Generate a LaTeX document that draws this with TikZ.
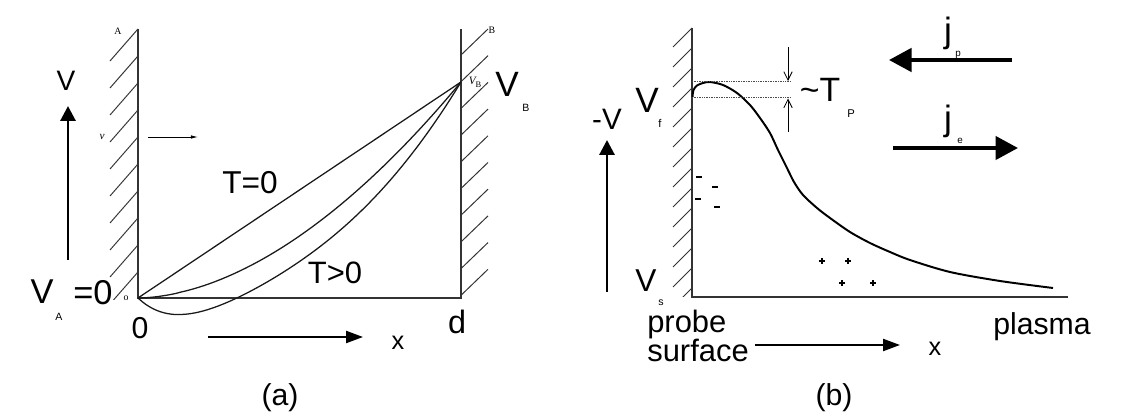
\documentclass[tikz,border=0pt]{standalone}
\usepackage{fontspec}
\setmainfont{Liberation Sans}
\newfontfamily\smallserif{Liberation Serif}
\usetikzlibrary{arrows.meta}
\newcommand\fsz[1]{\fontsize{#1}{#1}\selectfont}
\tikzset{
  lbl/.style={inner sep=0pt, anchor=center},
  wall/.style={line width=0.8pt, black!80},
  hatch/.style={line width=0.7pt, black!80},
  curvea/.style={line width=0.9pt, black!90},
  curveb/.style={line width=1.4pt, black},
  bigarrow/.style={line width=2.1pt, -{Triangle[length=10.5pt,width=10.5pt]}},
  xarrow/.style={line width=1.5pt, -{Triangle[length=12pt,width=8.5pt]}},
  jarrow/.style={line width=2.8pt, -{Triangle[length=16pt,width=16.5pt]}},
  smallarrow/.style={line width=0.6pt, -{Latex[length=5pt,width=2.5pt]}},
  barb/.style={line width=0.6pt, -{Straight Barb[length=6pt,width=6pt]}},
  dotline/.style={line width=0.5pt, black!70, dash pattern=on 0.6pt off 0.6pt},
  sign/.style={line width=0.8pt}
}
\begin{document}
\begin{tikzpicture}[x=0.025cm,y=-0.025cm]
\useasboundingbox (0,0) rectangle (1134,419);
\fill[white] (0,0) rectangle (1134,419);

%% ================= Panel (a) =================
\coordinate (A0) at (138,298);
\coordinate (Atop) at (138,29);
\coordinate (B0) at (461,298);
\coordinate (Btop) at (461,29);
\coordinate (VBp) at (461,82);
\draw[wall] (Atop) -- (A0) -- (B0) -- (Btop);
\begin{scope}
  \clip (90,20) rectangle (138,300);
  \foreach \i in {0,...,9} \draw[hatch] (138,29+27*\i) -- ++(-28,32);
\end{scope}
\begin{scope}
  \clip (461,20) rectangle (500,298);
  \foreach \i in {0,...,9} \draw[hatch] (461,55+26.7*\i) -- ++(27,-26);
\end{scope}

% curves
\draw[curvea] (A0) -- (VBp);
\draw[curvea] (A0) -- plot[domain=0.002:0.998,samples=70,variable=\t] ({138+323*\t},{298-216*(\t^1.8)}) -- (VBp);
\draw[curvea] (A0) -- plot[domain=0.002:0.996,samples=90,variable=\t] ({138+323*\t},{298-216*((\t^2.45)-1.41*\t*((1-\t)^5.64))}) -- (VBp);

% small serif labels
\node[lbl] (labA) at (118,31) {\smallserif\fsz{7}A};
\node[lbl] (labB) at (492,30) {\smallserif\fsz{7}B};
\node[lbl] (labo) at (126,298) {\smallserif\fsz{7}o};
\node[lbl] (labv) at (102,137) {\smallserif\itshape\fsz{8}v};
\node[lbl, fill=white, inner sep=0.5pt] (labVBs) at (475,82) {\smallserif\itshape\fsz{8}V\raisebox{-2pt}{\upshape\fsz{6}B}};
\coordinate (sv1) at (148,137);
\coordinate (sv2) at (198,137);
\draw[smallarrow] (sv1) -- (sv2);

% V axis arrow
\node[lbl] (Vtop) at (66,81) {\fsz{20}V};
\coordinate (Va1) at (68,260);
\coordinate (Va2) at (68,106);
\draw[bigarrow] (Va1) -- (Va2);

% V_A = 0
\node[lbl] (VA) at (42,292) {\fsz{24.5}V};
\node[lbl] (VAsub) at (59,317) {\fsz{7.5}A};
\node[lbl] (VAeq) at (93,293) {\fsz{24.5}=0};

\node[lbl] (zero) at (140,328) {\fsz{21.5}0};
\node[lbl] (dlab) at (457,322) {\fsz{23}d};
\node[lbl] (xa) at (398,343) {\fsz{18}x};
\coordinate (xa1) at (208,337);
\coordinate (xa2) at (363,337);
\draw[xarrow] (xa1) -- (xa2);

\node[lbl] (T0) at (250,183) {\fsz{22.5}T=0};
\node[lbl] (Tg0) at (335,273) {\fsz{22}T>0};

\node[lbl] (VB) at (507,84) {\fsz{25}V};
\node[lbl] (VBsub) at (526,108) {\fsz{7.5}B};

\node[lbl] (capa) at (280,398) {\fsz{21.5}(a)};

%% ================= Panel (b) =================
\coordinate (P0) at (692,297);
\coordinate (Ptop) at (692,28);
\coordinate (Pend) at (1068,297);
\draw[wall] (Ptop) -- (P0) -- (Pend);
\begin{scope}
  \clip (660,20) rectangle (692,297);
  \foreach \i in {0,...,13} \draw[hatch] (692,28+20*\i) -- ++(-19,19);
\end{scope}

\draw[curveb] plot[smooth] coordinates {(692.5,97) (693.5,90) (697,85.5) (703,83) (710,82) (723,85) (737,93) (750,105) (760,118) (770,133) (778,150) (787,168) (794,182) (803,195) (817,208) (830,218) (850,232) (870,243) (890,252) (910,260) (950,272) (1000,281) (1053,288)};

% dotted levels and T_P arrows
\coordinate (d1a) at (692,81.7);
\coordinate (d1b) at (790,81.7);
\coordinate (d2a) at (692,97.7);
\coordinate (d2b) at (790,97.7);
\draw[dotline] (d1a) -- (d1b);
\draw[dotline] (d2a) -- (d2b);
\coordinate (ar1) at (788,47);
\coordinate (ar1t) at (788,81);
\coordinate (ar2) at (788,132);
\coordinate (ar2t) at (788,98.5);
\draw[barb] (ar1) -- (ar1t);
\draw[barb] (ar2) -- (ar2t);
\node[lbl] (TP) at (820,90) {\fsz{24}\textasciitilde T};
\node[lbl] (TPsub) at (851,114) {\fsz{8}P};

% -V axis
\node[lbl] (mV) at (607,119) {\fsz{21}-V};
\coordinate (mV1) at (607,292);
\coordinate (mV2) at (607,140);
\draw[bigarrow] (mV1) -- (mV2);

\node[lbl] (Vf) at (647,100) {\fsz{25}V};
\node[lbl] (Vfsub) at (660,123) {\fsz{8}f};
\node[lbl] (Vs) at (646,281) {\fsz{22.5}V};
\node[lbl] (Vssub) at (661,303) {\fsz{7.5}s};

% charges
\foreach \p in {(699,177),(715,187),(698,199),(717,207)}
  \draw[sign] \p ++(-3,0) -- ++(6,0);
\foreach \p in {(822,261),(848,261),(842,283),(873,283)}
  { \draw[sign] \p ++(-3,0) -- ++(6,0); \draw[sign] \p ++(0,-3) -- ++(0,6); }

% currents
\node[lbl] (jp) at (948,33) {\fsz{25}j};
\node[lbl] (jpsub) at (958,55) {\fsz{7}p};
\coordinate (jp1) at (1012,60);
\coordinate (jp2) at (889,60);
\draw[jarrow] (jp1) -- (jp2);
\node[lbl] (je) at (948,121) {\fsz{25}j};
\node[lbl] (jesub) at (960,141) {\fsz{7}e};
\coordinate (je1) at (893,148);
\coordinate (je2) at (1018,148);
\draw[jarrow] (je1) -- (je2);

% bottom labels
\node[inner sep=0pt, anchor=base west] (probe) at (647,333) {\fsz{22}probe};
\node[inner sep=0pt, anchor=base west] (surface) at (647,362) {\fsz{22}surface};
\coordinate (xb1) at (755,345);
\coordinate (xb2) at (900,345);
\draw[xarrow] (xb1) -- (xb2);
\node[lbl] (xb) at (935,349) {\fsz{18}x};
\node[inner sep=0pt, anchor=base] (plasma) at (1042,335) {\fsz{21.5}plasma};
\node[lbl] (capb) at (834,398) {\fsz{21.5}(b)};
\end{tikzpicture}
\end{document}
